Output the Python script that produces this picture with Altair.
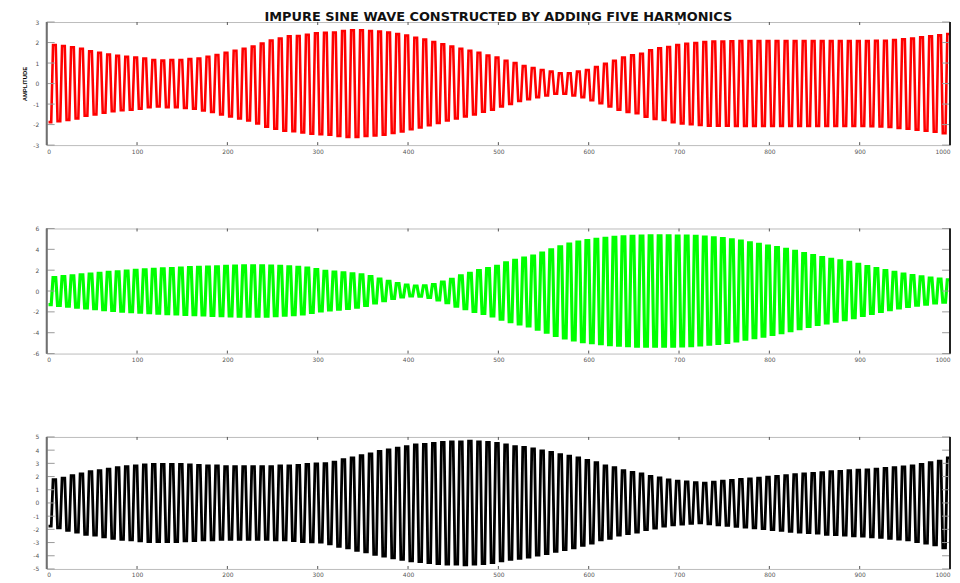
import altair as alt
import pandas as pd

TITLE = "IMPURE SINE WAVE CONSTRUCTED BY ADDING FIVE HARMONICS"
Y_TITLE = "AMPLITUDE"

x_tick_values = [0, 100, 200, 300, 400, 500, 600, 700, 800, 900, 1000]
red_tick_values = [-3, -2, -1, 0, 1, 2, 3]
green_tick_values = [-6, -4, -2, 0, 2, 4, 6]
black_tick_values = [-5, -4, -3, -2, -1, 0, 1, 2, 3, 4, 5]

# peak amplitude of each 10-sample period
red_peaks = [
    1.88, 1.83, 1.77, 1.70, 1.57, 1.50, 1.42, 1.35, 1.30, 1.27,
    1.22, 1.15, 1.12, 1.15, 1.15, 1.19, 1.22, 1.31, 1.39, 1.50,
    1.60, 1.70, 1.80, 1.95, 2.10, 2.20, 2.30, 2.32, 2.38, 2.45,
    2.47, 2.49, 2.56, 2.60, 2.60, 2.56, 2.53, 2.49, 2.41, 2.34,
    2.23, 2.14, 2.03, 1.92, 1.80, 1.70, 1.60, 1.50, 1.37, 1.27,
    1.11, 1.00, 0.85, 0.76, 0.66, 0.58, 0.50, 0.50, 0.58, 0.66,
    0.81, 0.96, 1.11, 1.27, 1.38, 1.45, 1.62, 1.72, 1.78, 1.88,
    1.94, 1.98, 2.02, 2.05, 2.05, 2.06, 2.07, 2.07, 2.07, 2.07,
    2.07, 2.07, 2.07, 2.07, 2.07, 2.07, 2.07, 2.07, 2.07, 2.07,
    2.07, 2.08, 2.09, 2.12, 2.16, 2.20, 2.25, 2.30, 2.35, 2.42,
]
green_peaks = [
    1.30, 1.38, 1.45, 1.55, 1.62, 1.70, 1.80, 1.85, 1.92, 1.98,
    2.03, 2.08, 2.12, 2.16, 2.20, 2.24, 2.27, 2.30, 2.33, 2.36,
    2.39, 2.41, 2.42, 2.42, 2.40, 2.36, 2.32, 2.27, 2.19, 2.05,
    1.90, 1.82, 1.75, 1.66, 1.55, 1.38, 1.15, 0.92, 0.72, 0.56,
    0.48, 0.50, 0.62, 0.85, 1.12, 1.45, 1.70, 1.95, 2.15, 2.38,
    2.70, 2.95, 3.15, 3.35, 3.65, 3.95, 4.25, 4.50, 4.70, 4.85,
    4.95, 5.05, 5.15, 5.20, 5.24, 5.28, 5.30, 5.30, 5.30, 5.28,
    5.27, 5.24, 5.18, 5.10, 5.02, 4.92, 4.78, 4.63, 4.48, 4.32,
    4.17, 4.00, 3.80, 3.60, 3.40, 3.20, 3.05, 2.90, 2.75, 2.55,
    2.35, 2.15, 1.95, 1.80, 1.62, 1.48, 1.35, 1.25, 1.15, 1.08,
]
black_peaks = [
    1.76, 1.88, 2.07, 2.20, 2.37, 2.44, 2.56, 2.68, 2.76, 2.80,
    2.88, 2.93, 2.93, 2.93, 2.93, 2.88, 2.85, 2.80, 2.80, 2.76,
    2.76, 2.76, 2.76, 2.76, 2.76, 2.80, 2.80, 2.85, 2.93, 2.95,
    2.97, 3.10, 3.29, 3.41, 3.59, 3.71, 3.90, 4.02, 4.15, 4.27,
    4.39, 4.44, 4.51, 4.59, 4.63, 4.63, 4.68, 4.63, 4.59, 4.51,
    4.39, 4.27, 4.20, 4.10, 3.95, 3.83, 3.66, 3.54, 3.41, 3.22,
    3.05, 2.80, 2.68, 2.44, 2.32, 2.20, 2.02, 1.90, 1.75, 1.66,
    1.60, 1.54, 1.51, 1.58, 1.66, 1.70, 1.78, 1.83, 1.88, 1.95,
    2.02, 2.07, 2.15, 2.20, 2.24, 2.29, 2.37, 2.39, 2.44, 2.49,
    2.51, 2.56, 2.61, 2.68, 2.73, 2.80, 2.93, 3.05, 3.17, 3.41,
]

# layout of one period: trough held, then peak held
cycle_length = 10
cycle_offsets = [2.0, 5.0, 7.0, 10.0]
cycle_signs = [-1, -1, 1, 1]

W = 910


def wave_frame(peaks):
    rows = []
    for k, a in enumerate(peaks):
        for off, s in zip(cycle_offsets, cycle_signs):
            rows.append({"t": k * cycle_length + off, "v": s * a})
    return pd.DataFrame(rows)


def panel(peaks, color, sw, ticks, domain, h, y_title=None, title=None):
    xs = alt.Scale(domain=[0, 1000], nice=False, zero=False)
    ys = alt.Scale(domain=domain, nice=False, zero=False)
    x_axis = alt.Axis(values=x_tick_values, ticks=False, domain=False, grid=False,
                      labelFontSize=6, labelColor="#555555", labelPadding=3,
                      labelFont="DejaVu Sans", labelFlush=True, format="d",
                      title=None)
    kw = dict(values=ticks, ticks=False, domain=False, grid=False,
              labelFontSize=6, labelColor="#555555", labelPadding=8,
              labelFont="DejaVu Sans", format="d",
              labelExpr="replace(datum.label, '\u2212', '-')")
    if y_title:
        y_axis = alt.Axis(title=y_title, titleFontSize=6, titleFont="Liberation Sans",
                          titleFontWeight="bold", titleColor="#000000",
                          titlePadding=5, **kw)
    else:
        y_axis = alt.Axis(title=None, **kw)

    X = alt.X("t:Q", scale=xs, axis=x_axis)
    Y = alt.Y("v:Q", scale=ys, axis=y_axis)

    wave = alt.Chart(wave_frame(peaks)).mark_line(
        color=color, strokeWidth=sw, clip=True
    ).encode(x=X, y=Y)
    ytick_df = pd.DataFrame({"v": ticks})
    xtick_df = pd.DataFrame({"t": x_tick_values})
    one = pd.DataFrame({"k": [0]})
    ytl = alt.Chart(ytick_df).mark_rule(color="#9a9a9a", strokeWidth=1).encode(
        y=Y, x=alt.value(0), x2=alt.value(8))
    ytr = alt.Chart(ytick_df).mark_rule(color="#9a9a9a", strokeWidth=1).encode(
        y=Y, x=alt.value(W - 8), x2=alt.value(W))
    xtt = alt.Chart(xtick_df).mark_rule(color="#555555", strokeWidth=1).encode(
        x=X, y=alt.value(0), y2=alt.value(3))
    xtb = alt.Chart(xtick_df).mark_rule(color="#555555", strokeWidth=1).encode(
        x=X, y=alt.value(h - 3), y2=alt.value(h))
    left = alt.Chart(one).mark_rule(color="#707070", strokeWidth=2).encode(
        x=alt.value(0), y=alt.value(0), y2=alt.value(h))
    right = alt.Chart(one).mark_rule(color="#222222", strokeWidth=2).encode(
        x=alt.value(W), y=alt.value(0), y2=alt.value(h))
    props = dict(width=W, height=h)
    if title:
        props["title"] = alt.TitleParams(
            title, font="DejaVu Sans", fontSize=13, fontWeight="bold",
            color="#111111", anchor="middle", frame="group", offset=-5)
    return alt.layer(wave, ytl, ytr, xtt, xtb, left, right).properties(**props)


p1 = panel(red_peaks, "#ff0000", 2.6, red_tick_values, [-3, 3], 124,
           y_title=Y_TITLE, title=TITLE)
p2 = panel(green_peaks, "#00ff00", 3.2, green_tick_values, [-6, 6], 126)
p3 = panel(black_peaks, "#000000", 2.8, black_tick_values, [-5, 5], 133)

chart = alt.vconcat(p1, p2, p3, spacing=70).properties(
    padding={"left": 13, "top": 0, "right": 0, "bottom": 0},
    background="white",
).configure_view(stroke="#bbbbbb")

chart.save("out.html", embed_options={"renderer": "svg", "actions": False})
